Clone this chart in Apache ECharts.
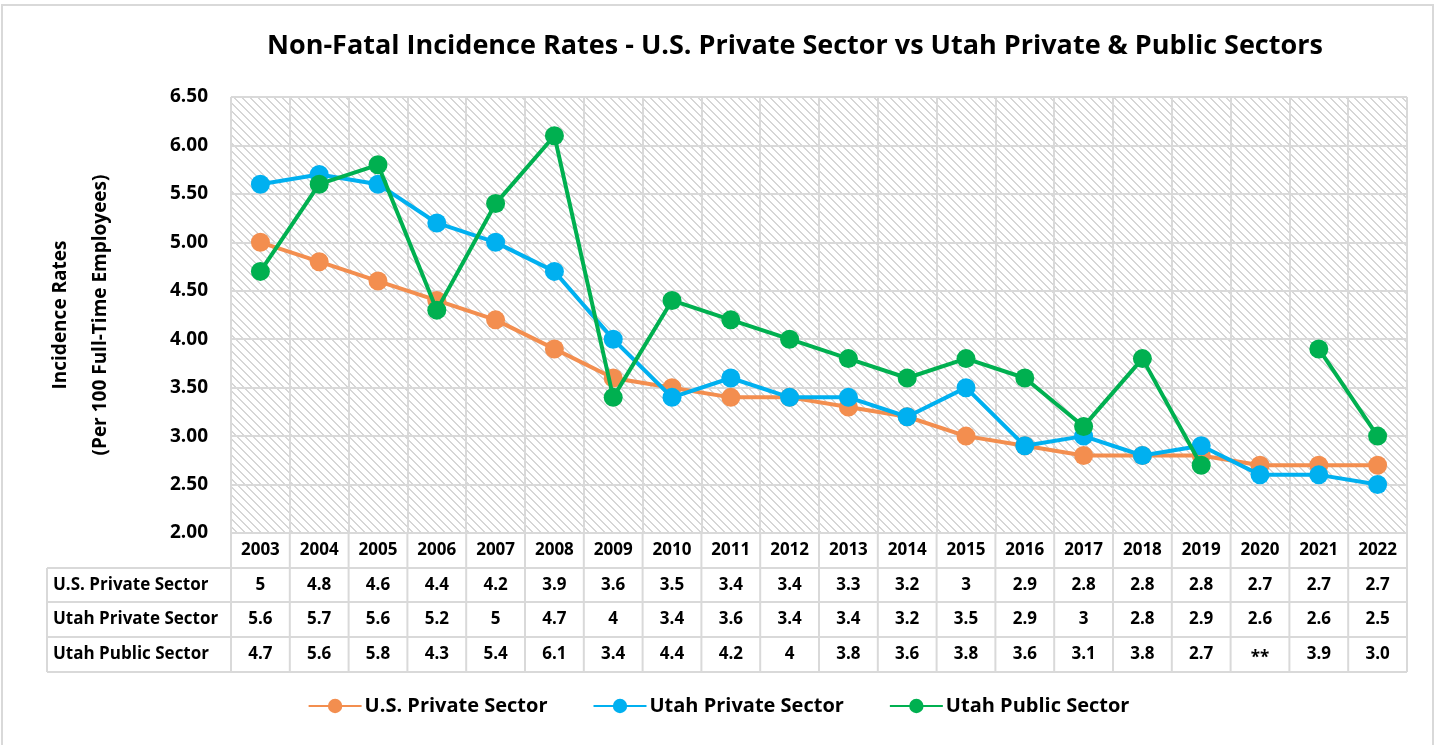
<!DOCTYPE html>
<html>
<head>
<meta charset="utf-8">
<script src="https://cdn.jsdelivr.net/npm/echarts@6/dist/echarts.min.js"></script>
<style>
  html, body { margin: 0; padding: 0; background: #fff; }
  #chart { width: 1437px; height: 745px; }
</style>
</head>
<body>
<div id="chart"></div>
<script>
// data
const years = ["2003", "2004", "2005", "2006", "2007", "2008", "2009", "2010", "2011", "2012",
  "2013", "2014", "2015", "2016", "2017", "2018", "2019", "2020", "2021", "2022"];
const usPrivate = [5, 4.8, 4.6, 4.4, 4.2, 3.9, 3.6, 3.5, 3.4, 3.4, 3.3, 3.2, 3, 2.9, 2.8, 2.8, 2.8, 2.7, 2.7, 2.7];
const utahPrivate = [5.6, 5.7, 5.6, 5.2, 5, 4.7, 4, 3.4, 3.6, 3.4, 3.4, 3.2, 3.5, 2.9, 3, 2.8, 2.9, 2.6, 2.6, 2.5];
const utahPublic = [4.7, 5.6, 5.8, 4.3, 5.4, 6.1, 3.4, 4.4, 4.2, 4, 3.8, 3.6, 3.8, 3.6, 3.1, 3.8, 2.7, null, 3.9, 3.0];
const utahPublicLabels = ["4.7", "5.6", "5.8", "4.3", "5.4", "6.1", "3.4", "4.4", "4.2", "4", "3.8", "3.6",
  "3.8", "3.6", "3.1", "3.8", "2.7", "**", "3.9", "3.0"];
const seriesNames = ["U.S. Private Sector", "Utah Private Sector", "Utah Public Sector"];
const colors = ["#F38E4F", "#00B0F0", "#00B050"];

const FONT = "Open Sans";
const GRID = "#d9d9d9";

// diagonal hatch for the plot area
function hatch() {
  const c = document.createElement("canvas");
  c.width = 8; c.height = 8;
  const ctx = c.getContext("2d");
  ctx.fillStyle = "#fff";
  ctx.fillRect(0, 0, 8, 8);
  ctx.fillStyle = "#d6d6d6";
  for (let i = 0; i < 8; i++) {
    ctx.fillRect(i, i, 1, 1);
    ctx.fillRect((i + 1) % 8, i, 1, 1);
  }
  return c;
}

const chart = echarts.init(document.getElementById("chart"));

function mkSeries(name, data, color, z) {
  return {
    name: name,
    type: "line",
    data: data,
    z: z,
    symbol: "circle",
    symbolSize: 19,
    connectNulls: false,
    lineStyle: { color: color, width: 4 },
    itemStyle: { color: color },
    emphasis: { disabled: true }
  };
}

chart.setOption({
  animation: false,
  backgroundColor: "#fff",
  title: {
    text: "Non-Fatal Incidence Rates - U.S. Private Sector vs Utah Private & Public Sectors",
    left: 262,
    top: 28,
    textStyle: { fontFamily: FONT, fontWeight: "bold", fontSize: 27, color: "#000" }
  },
  legend: {
    data: seriesNames,
    bottom: 24,
    left: "center",
    itemWidth: 53,
    itemHeight: 18,
    itemGap: 45,
    textStyle: { fontFamily: FONT, fontWeight: "bold", fontSize: 20, color: "#000", padding: [0, 0, 0, -2] }
  },
  grid: {
    left: 231, right: 30, top: 97, bottom: 212,
    show: true,
    borderWidth: 0,
    backgroundColor: { image: hatch(), repeat: "repeat" }
  },
  xAxis: {
    type: "category",
    data: years,
    boundaryGap: true,
    axisLine: { show: false },
    axisTick: { show: false },
    splitLine: { show: true, interval: 0, lineStyle: { color: GRID, width: 2 } },
    axisLabel: { interval: 0, margin: 9, fontFamily: FONT, fontWeight: "bold", fontSize: 17, color: "#000" }
  },
  yAxis: {
    type: "value",
    min: 2,
    max: 6.5,
    interval: 0.5,
    name: "Incidence Rates\n(Per 100 Full-Time Employees)",
    nameLocation: "middle",
    nameGap: 110,
    nameRotate: 90,
    nameTextStyle: { fontFamily: FONT, fontWeight: "bold", fontSize: 19, color: "#000", lineHeight: 40 },
    axisLine: { show: false },
    axisTick: { show: false },
    splitLine: { show: true, lineStyle: { color: GRID, width: 2 } },
    axisLabel: {
      margin: 23,
      fontFamily: FONT, fontWeight: "bold", fontSize: 19, color: "#000",
      formatter: v => v.toFixed(2)
    }
  },
  series: [
    mkSeries(seriesNames[0], usPrivate, colors[0], 2),
    mkSeries(seriesNames[1], utahPrivate, colors[1], 3),
    mkSeries(seriesNames[2], utahPublic, colors[2], 4)
  ]
});

// data table under the plot
function buildTable() {
  const rows = [
    usPrivate.map(v => String(v)),
    utahPrivate.map(v => String(v)),
    utahPublicLabels
  ];
  const plotLeft = 231, plotRight = 1407, plotBottom = 533;
  const rowLines = [568, 602, 637, 672];
  const labelLeft = 47;
  const step = (plotRight - plotLeft) / years.length;
  const els = [];
  const line = (x1, y1, x2, y2) => els.push({
    type: "line", silent: true,
    shape: { x1: x1, y1: y1, x2: x2, y2: y2 },
    style: { stroke: GRID, lineWidth: 2 }
  });
  // outer chart border
  els.push({
    type: "rect", silent: true,
    shape: { x: 2, y: 5, width: 1431, height: 745 },
    style: { fill: null, stroke: GRID, lineWidth: 2 }
  });
  // verticals through the year header and value rows
  for (let i = 0; i <= years.length; i++) {
    const x = plotLeft + i * step;
    line(x, plotBottom, x, rowLines[3]);
  }
  line(labelLeft, rowLines[0], labelLeft, rowLines[3]);
  rowLines.forEach(y => line(labelLeft, y, plotRight, y));

  rows.forEach((vals, r) => {
    const cy = (rowLines[r] + rowLines[r + 1]) / 2;
    els.push({
      type: "text", silent: true,
      style: {
        text: seriesNames[r], x: labelLeft + 6, y: cy,
        textVerticalAlign: "middle", textAlign: "left",
        font: "bold 17px " + FONT, fill: "#000"
      }
    });
    vals.forEach((t, i) => {
      const cx = chart.convertToPixel({ xAxisIndex: 0 }, i);
      els.push({
        type: "text", silent: true,
        style: {
          text: t, x: cx, y: cy + (t === "**" ? 4 : 0),
          textVerticalAlign: "middle", textAlign: "center",
          font: "bold 17px " + FONT, fill: "#000"
        }
      });
    });
  });
  chart.setOption({ graphic: els });
}
buildTable();
</script>
</body>
</html>
